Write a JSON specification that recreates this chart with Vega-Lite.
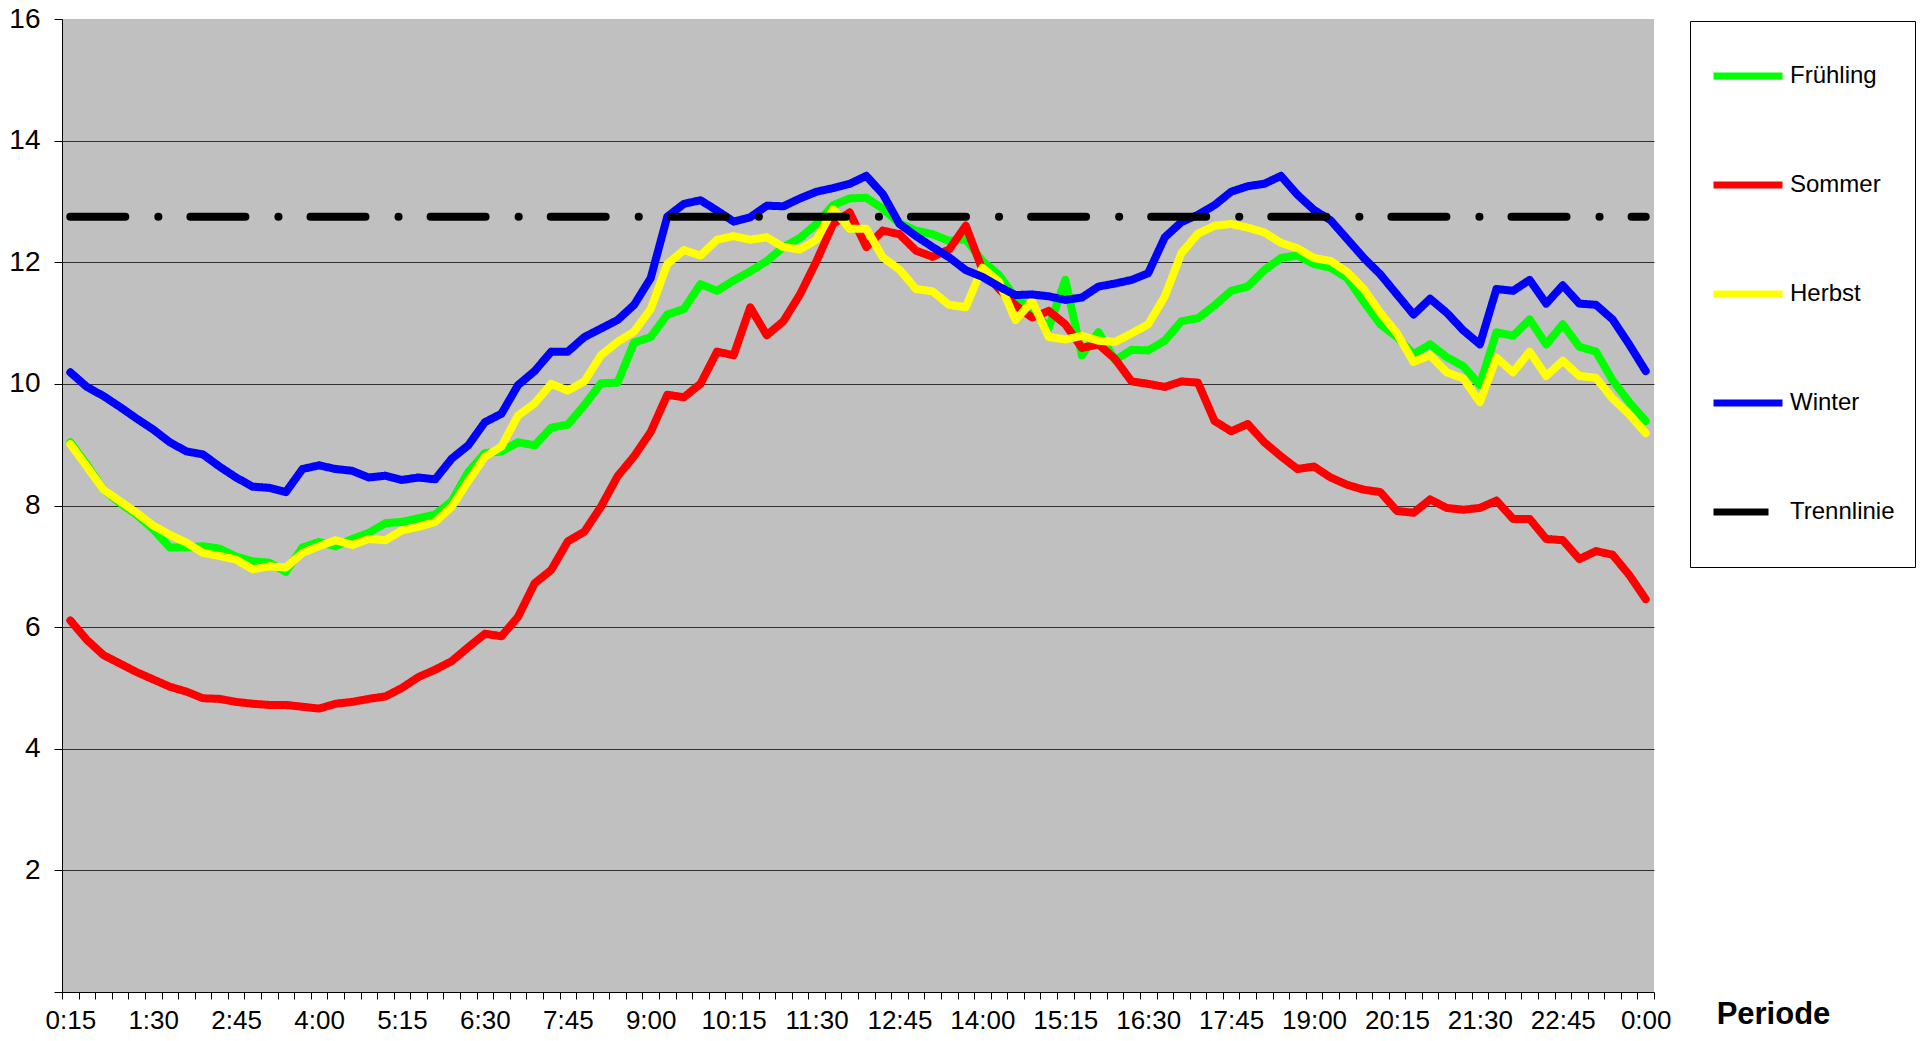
{
"$schema": "https://vega.github.io/schema/vega-lite/v6.json",
"width": 1592, "height": 973,
"autosize": "none",
"padding": {"left": 62, "top": 19, "right": 268, "bottom": 49},
"background": "white",
"config": {"view": {"fill": "#C0C0C0", "stroke": null}, "font": "Liberation Sans"},
"data": {"values": [
{"i":1,"s":"Frühling","v":9.04},{"i":2,"s":"Frühling","v":8.67},{"i":3,"s":"Frühling","v":8.26},{"i":4,"s":"Frühling","v":8.04},{"i":5,"s":"Frühling","v":7.85},{"i":6,"s":"Frühling","v":7.61},{"i":7,"s":"Frühling","v":7.31},{"i":8,"s":"Frühling","v":7.31},{"i":9,"s":"Frühling","v":7.33},{"i":10,"s":"Frühling","v":7.29},
{"i":11,"s":"Frühling","v":7.16},{"i":12,"s":"Frühling","v":7.08},{"i":13,"s":"Frühling","v":7.06},{"i":14,"s":"Frühling","v":6.91},{"i":15,"s":"Frühling","v":7.31},{"i":16,"s":"Frühling","v":7.40},{"i":17,"s":"Frühling","v":7.33},{"i":18,"s":"Frühling","v":7.45},{"i":19,"s":"Frühling","v":7.55},{"i":20,"s":"Frühling","v":7.71},
{"i":21,"s":"Frühling","v":7.73},{"i":22,"s":"Frühling","v":7.79},{"i":23,"s":"Frühling","v":7.85},{"i":24,"s":"Frühling","v":8.07},{"i":25,"s":"Frühling","v":8.55},{"i":26,"s":"Frühling","v":8.86},{"i":27,"s":"Frühling","v":8.89},{"i":28,"s":"Frühling","v":9.04},{"i":29,"s":"Frühling","v":8.99},{"i":30,"s":"Frühling","v":9.28},
{"i":31,"s":"Frühling","v":9.33},{"i":32,"s":"Frühling","v":9.65},{"i":33,"s":"Frühling","v":10.01},{"i":34,"s":"Frühling","v":10.02},{"i":35,"s":"Frühling","v":10.68},{"i":36,"s":"Frühling","v":10.77},{"i":37,"s":"Frühling","v":11.14},{"i":38,"s":"Frühling","v":11.23},{"i":39,"s":"Frühling","v":11.64},{"i":40,"s":"Frühling","v":11.53},
{"i":41,"s":"Frühling","v":11.70},{"i":42,"s":"Frühling","v":11.85},{"i":43,"s":"Frühling","v":12.02},{"i":44,"s":"Frühling","v":12.25},{"i":45,"s":"Frühling","v":12.40},{"i":46,"s":"Frühling","v":12.63},{"i":47,"s":"Frühling","v":12.94},{"i":48,"s":"Frühling","v":13.05},{"i":49,"s":"Frühling","v":13.06},{"i":50,"s":"Frühling","v":12.88},
{"i":51,"s":"Frühling","v":12.64},{"i":52,"s":"Frühling","v":12.52},{"i":53,"s":"Frühling","v":12.46},{"i":54,"s":"Frühling","v":12.35},{"i":55,"s":"Frühling","v":12.38},{"i":56,"s":"Frühling","v":12.02},{"i":57,"s":"Frühling","v":11.79},{"i":58,"s":"Frühling","v":11.41},{"i":59,"s":"Frühling","v":11.23},{"i":60,"s":"Frühling","v":10.92},
{"i":61,"s":"Frühling","v":11.71},{"i":62,"s":"Frühling","v":10.47},{"i":63,"s":"Frühling","v":10.85},{"i":64,"s":"Frühling","v":10.39},{"i":65,"s":"Frühling","v":10.56},{"i":66,"s":"Frühling","v":10.55},{"i":67,"s":"Frühling","v":10.71},{"i":68,"s":"Frühling","v":11.03},{"i":69,"s":"Frühling","v":11.08},{"i":70,"s":"Frühling","v":11.29},
{"i":71,"s":"Frühling","v":11.53},{"i":72,"s":"Frühling","v":11.60},{"i":73,"s":"Frühling","v":11.87},{"i":74,"s":"Frühling","v":12.07},{"i":75,"s":"Frühling","v":12.11},{"i":76,"s":"Frühling","v":11.97},{"i":77,"s":"Frühling","v":11.91},{"i":78,"s":"Frühling","v":11.74},{"i":79,"s":"Frühling","v":11.35},{"i":80,"s":"Frühling","v":10.98},
{"i":81,"s":"Frühling","v":10.77},{"i":82,"s":"Frühling","v":10.49},{"i":83,"s":"Frühling","v":10.65},{"i":84,"s":"Frühling","v":10.44},{"i":85,"s":"Frühling","v":10.29},{"i":86,"s":"Frühling","v":9.98},{"i":87,"s":"Frühling","v":10.85},{"i":88,"s":"Frühling","v":10.79},{"i":89,"s":"Frühling","v":11.06},{"i":90,"s":"Frühling","v":10.65},
{"i":91,"s":"Frühling","v":10.98},{"i":92,"s":"Frühling","v":10.61},{"i":93,"s":"Frühling","v":10.53},{"i":94,"s":"Frühling","v":10.06},{"i":95,"s":"Frühling","v":9.70},{"i":96,"s":"Frühling","v":9.39},
{"i":1,"s":"Sommer","v":6.11},{"i":2,"s":"Sommer","v":5.79},{"i":3,"s":"Sommer","v":5.54},{"i":4,"s":"Sommer","v":5.40},{"i":5,"s":"Sommer","v":5.26},{"i":6,"s":"Sommer","v":5.14},{"i":7,"s":"Sommer","v":5.02},{"i":8,"s":"Sommer","v":4.94},{"i":9,"s":"Sommer","v":4.83},{"i":10,"s":"Sommer","v":4.82},
{"i":11,"s":"Sommer","v":4.77},{"i":12,"s":"Sommer","v":4.74},{"i":13,"s":"Sommer","v":4.72},{"i":14,"s":"Sommer","v":4.72},{"i":15,"s":"Sommer","v":4.69},{"i":16,"s":"Sommer","v":4.66},{"i":17,"s":"Sommer","v":4.74},{"i":18,"s":"Sommer","v":4.77},{"i":19,"s":"Sommer","v":4.82},{"i":20,"s":"Sommer","v":4.86},
{"i":21,"s":"Sommer","v":5.00},{"i":22,"s":"Sommer","v":5.18},{"i":23,"s":"Sommer","v":5.30},{"i":24,"s":"Sommer","v":5.44},{"i":25,"s":"Sommer","v":5.67},{"i":26,"s":"Sommer","v":5.89},{"i":27,"s":"Sommer","v":5.85},{"i":28,"s":"Sommer","v":6.17},{"i":29,"s":"Sommer","v":6.72},{"i":30,"s":"Sommer","v":6.94},
{"i":31,"s":"Sommer","v":7.41},{"i":32,"s":"Sommer","v":7.57},{"i":33,"s":"Sommer","v":7.98},{"i":34,"s":"Sommer","v":8.48},{"i":35,"s":"Sommer","v":8.81},{"i":36,"s":"Sommer","v":9.21},{"i":37,"s":"Sommer","v":9.82},{"i":38,"s":"Sommer","v":9.78},{"i":39,"s":"Sommer","v":10.00},{"i":40,"s":"Sommer","v":10.53},
{"i":41,"s":"Sommer","v":10.47},{"i":42,"s":"Sommer","v":11.26},{"i":43,"s":"Sommer","v":10.80},{"i":44,"s":"Sommer","v":11.03},{"i":45,"s":"Sommer","v":11.47},{"i":46,"s":"Sommer","v":12.02},{"i":47,"s":"Sommer","v":12.63},{"i":48,"s":"Sommer","v":12.82},{"i":49,"s":"Sommer","v":12.25},{"i":50,"s":"Sommer","v":12.52},
{"i":51,"s":"Sommer","v":12.46},{"i":52,"s":"Sommer","v":12.19},{"i":53,"s":"Sommer","v":12.09},{"i":54,"s":"Sommer","v":12.21},{"i":55,"s":"Sommer","v":12.60},{"i":56,"s":"Sommer","v":11.88},{"i":57,"s":"Sommer","v":11.56},{"i":58,"s":"Sommer","v":11.29},{"i":59,"s":"Sommer","v":11.09},{"i":60,"s":"Sommer","v":11.20},
{"i":61,"s":"Sommer","v":10.98},{"i":62,"s":"Sommer","v":10.59},{"i":63,"s":"Sommer","v":10.65},{"i":64,"s":"Sommer","v":10.41},{"i":65,"s":"Sommer","v":10.04},{"i":66,"s":"Sommer","v":10.00},{"i":67,"s":"Sommer","v":9.95},{"i":68,"s":"Sommer","v":10.04},{"i":69,"s":"Sommer","v":10.02},{"i":70,"s":"Sommer","v":9.39},
{"i":71,"s":"Sommer","v":9.22},{"i":72,"s":"Sommer","v":9.34},{"i":73,"s":"Sommer","v":9.04},{"i":74,"s":"Sommer","v":8.81},{"i":75,"s":"Sommer","v":8.60},{"i":76,"s":"Sommer","v":8.64},{"i":77,"s":"Sommer","v":8.46},{"i":78,"s":"Sommer","v":8.34},{"i":79,"s":"Sommer","v":8.26},{"i":80,"s":"Sommer","v":8.22},
{"i":81,"s":"Sommer","v":7.91},{"i":82,"s":"Sommer","v":7.88},{"i":83,"s":"Sommer","v":8.10},{"i":84,"s":"Sommer","v":7.96},{"i":85,"s":"Sommer","v":7.93},{"i":86,"s":"Sommer","v":7.96},{"i":87,"s":"Sommer","v":8.08},{"i":88,"s":"Sommer","v":7.78},{"i":89,"s":"Sommer","v":7.78},{"i":90,"s":"Sommer","v":7.45},
{"i":91,"s":"Sommer","v":7.43},{"i":92,"s":"Sommer","v":7.12},{"i":93,"s":"Sommer","v":7.25},{"i":94,"s":"Sommer","v":7.19},{"i":95,"s":"Sommer","v":6.86},{"i":96,"s":"Sommer","v":6.46},
{"i":1,"s":"Herbst","v":9.01},{"i":2,"s":"Herbst","v":8.64},{"i":3,"s":"Herbst","v":8.26},{"i":4,"s":"Herbst","v":8.07},{"i":5,"s":"Herbst","v":7.88},{"i":6,"s":"Herbst","v":7.67},{"i":7,"s":"Herbst","v":7.52},{"i":8,"s":"Herbst","v":7.39},{"i":9,"s":"Herbst","v":7.22},{"i":10,"s":"Herbst","v":7.17},
{"i":11,"s":"Herbst","v":7.11},{"i":12,"s":"Herbst","v":6.95},{"i":13,"s":"Herbst","v":7.00},{"i":14,"s":"Herbst","v":6.98},{"i":15,"s":"Herbst","v":7.22},{"i":16,"s":"Herbst","v":7.33},{"i":17,"s":"Herbst","v":7.43},{"i":18,"s":"Herbst","v":7.35},{"i":19,"s":"Herbst","v":7.45},{"i":20,"s":"Herbst","v":7.43},
{"i":21,"s":"Herbst","v":7.59},{"i":22,"s":"Herbst","v":7.65},{"i":23,"s":"Herbst","v":7.73},{"i":24,"s":"Herbst","v":7.98},{"i":25,"s":"Herbst","v":8.40},{"i":26,"s":"Herbst","v":8.80},{"i":27,"s":"Herbst","v":8.97},{"i":28,"s":"Herbst","v":9.48},{"i":29,"s":"Herbst","v":9.68},{"i":30,"s":"Herbst","v":10.00},
{"i":31,"s":"Herbst","v":9.89},{"i":32,"s":"Herbst","v":10.04},{"i":33,"s":"Herbst","v":10.47},{"i":34,"s":"Herbst","v":10.69},{"i":35,"s":"Herbst","v":10.86},{"i":36,"s":"Herbst","v":11.23},{"i":37,"s":"Herbst","v":11.97},{"i":38,"s":"Herbst","v":12.20},{"i":39,"s":"Herbst","v":12.11},{"i":40,"s":"Herbst","v":12.37},
{"i":41,"s":"Herbst","v":12.43},{"i":42,"s":"Herbst","v":12.37},{"i":43,"s":"Herbst","v":12.41},{"i":44,"s":"Herbst","v":12.25},{"i":45,"s":"Herbst","v":12.21},{"i":46,"s":"Herbst","v":12.37},{"i":47,"s":"Herbst","v":12.87},{"i":48,"s":"Herbst","v":12.55},{"i":49,"s":"Herbst","v":12.55},{"i":50,"s":"Herbst","v":12.08},
{"i":51,"s":"Herbst","v":11.88},{"i":52,"s":"Herbst","v":11.56},{"i":53,"s":"Herbst","v":11.52},{"i":54,"s":"Herbst","v":11.30},{"i":55,"s":"Herbst","v":11.26},{"i":56,"s":"Herbst","v":11.91},{"i":57,"s":"Herbst","v":11.68},{"i":58,"s":"Herbst","v":11.05},{"i":59,"s":"Herbst","v":11.36},{"i":60,"s":"Herbst","v":10.77},
{"i":61,"s":"Herbst","v":10.73},{"i":62,"s":"Herbst","v":10.79},{"i":63,"s":"Herbst","v":10.71},{"i":64,"s":"Herbst","v":10.69},{"i":65,"s":"Herbst","v":10.83},{"i":66,"s":"Herbst","v":10.98},{"i":67,"s":"Herbst","v":11.44},{"i":68,"s":"Herbst","v":12.15},{"i":69,"s":"Herbst","v":12.47},{"i":70,"s":"Herbst","v":12.60},
{"i":71,"s":"Herbst","v":12.63},{"i":72,"s":"Herbst","v":12.57},{"i":73,"s":"Herbst","v":12.49},{"i":74,"s":"Herbst","v":12.32},{"i":75,"s":"Herbst","v":12.23},{"i":76,"s":"Herbst","v":12.07},{"i":77,"s":"Herbst","v":12.02},{"i":78,"s":"Herbst","v":11.84},{"i":79,"s":"Herbst","v":11.56},{"i":80,"s":"Herbst","v":11.17},
{"i":81,"s":"Herbst","v":10.83},{"i":82,"s":"Herbst","v":10.36},{"i":83,"s":"Herbst","v":10.47},{"i":84,"s":"Herbst","v":10.19},{"i":85,"s":"Herbst","v":10.09},{"i":86,"s":"Herbst","v":9.70},{"i":87,"s":"Herbst","v":10.43},{"i":88,"s":"Herbst","v":10.19},{"i":89,"s":"Herbst","v":10.53},{"i":90,"s":"Herbst","v":10.13},
{"i":91,"s":"Herbst","v":10.38},{"i":92,"s":"Herbst","v":10.13},{"i":93,"s":"Herbst","v":10.10},{"i":94,"s":"Herbst","v":9.76},{"i":95,"s":"Herbst","v":9.50},{"i":96,"s":"Herbst","v":9.19},
{"i":1,"s":"Winter","v":10.19},{"i":2,"s":"Winter","v":9.95},{"i":3,"s":"Winter","v":9.80},{"i":4,"s":"Winter","v":9.62},{"i":5,"s":"Winter","v":9.43},{"i":6,"s":"Winter","v":9.25},{"i":7,"s":"Winter","v":9.04},{"i":8,"s":"Winter","v":8.89},{"i":9,"s":"Winter","v":8.84},{"i":10,"s":"Winter","v":8.64},
{"i":11,"s":"Winter","v":8.46},{"i":12,"s":"Winter","v":8.31},{"i":13,"s":"Winter","v":8.29},{"i":14,"s":"Winter","v":8.22},{"i":15,"s":"Winter","v":8.60},{"i":16,"s":"Winter","v":8.66},{"i":17,"s":"Winter","v":8.60},{"i":18,"s":"Winter","v":8.57},{"i":19,"s":"Winter","v":8.46},{"i":20,"s":"Winter","v":8.49},
{"i":21,"s":"Winter","v":8.42},{"i":22,"s":"Winter","v":8.46},{"i":23,"s":"Winter","v":8.43},{"i":24,"s":"Winter","v":8.77},{"i":25,"s":"Winter","v":8.99},{"i":26,"s":"Winter","v":9.37},{"i":27,"s":"Winter","v":9.51},{"i":28,"s":"Winter","v":9.98},{"i":29,"s":"Winter","v":10.21},{"i":30,"s":"Winter","v":10.53},
{"i":31,"s":"Winter","v":10.53},{"i":32,"s":"Winter","v":10.77},{"i":33,"s":"Winter","v":10.91},{"i":34,"s":"Winter","v":11.05},{"i":35,"s":"Winter","v":11.30},{"i":36,"s":"Winter","v":11.74},{"i":37,"s":"Winter","v":12.75},{"i":38,"s":"Winter","v":12.96},{"i":39,"s":"Winter","v":13.02},{"i":40,"s":"Winter","v":12.85},
{"i":41,"s":"Winter","v":12.67},{"i":42,"s":"Winter","v":12.74},{"i":43,"s":"Winter","v":12.93},{"i":44,"s":"Winter","v":12.92},{"i":45,"s":"Winter","v":13.05},{"i":46,"s":"Winter","v":13.16},{"i":47,"s":"Winter","v":13.22},{"i":48,"s":"Winter","v":13.29},{"i":49,"s":"Winter","v":13.42},{"i":50,"s":"Winter","v":13.12},
{"i":51,"s":"Winter","v":12.63},{"i":52,"s":"Winter","v":12.43},{"i":53,"s":"Winter","v":12.25},{"i":54,"s":"Winter","v":12.08},{"i":55,"s":"Winter","v":11.87},{"i":56,"s":"Winter","v":11.76},{"i":57,"s":"Winter","v":11.60},{"i":58,"s":"Winter","v":11.46},{"i":59,"s":"Winter","v":11.47},{"i":60,"s":"Winter","v":11.44},
{"i":61,"s":"Winter","v":11.38},{"i":62,"s":"Winter","v":11.42},{"i":63,"s":"Winter","v":11.60},{"i":64,"s":"Winter","v":11.65},{"i":65,"s":"Winter","v":11.71},{"i":66,"s":"Winter","v":11.82},{"i":67,"s":"Winter","v":12.41},{"i":68,"s":"Winter","v":12.66},{"i":69,"s":"Winter","v":12.78},{"i":70,"s":"Winter","v":12.94},
{"i":71,"s":"Winter","v":13.16},{"i":72,"s":"Winter","v":13.25},{"i":73,"s":"Winter","v":13.29},{"i":74,"s":"Winter","v":13.42},{"i":75,"s":"Winter","v":13.11},{"i":76,"s":"Winter","v":12.86},{"i":77,"s":"Winter","v":12.69},{"i":78,"s":"Winter","v":12.38},{"i":79,"s":"Winter","v":12.07},{"i":80,"s":"Winter","v":11.80},
{"i":81,"s":"Winter","v":11.47},{"i":82,"s":"Winter","v":11.14},{"i":83,"s":"Winter","v":11.40},{"i":84,"s":"Winter","v":11.17},{"i":85,"s":"Winter","v":10.88},{"i":86,"s":"Winter","v":10.65},{"i":87,"s":"Winter","v":11.56},{"i":88,"s":"Winter","v":11.53},{"i":89,"s":"Winter","v":11.71},{"i":90,"s":"Winter","v":11.32},
{"i":91,"s":"Winter","v":11.62},{"i":92,"s":"Winter","v":11.32},{"i":93,"s":"Winter","v":11.30},{"i":94,"s":"Winter","v":11.06},{"i":95,"s":"Winter","v":10.65},{"i":96,"s":"Winter","v":10.21},
{"i":1,"s":"Trennlinie","v":12.75},{"i":2,"s":"Trennlinie","v":12.75},{"i":3,"s":"Trennlinie","v":12.75},{"i":4,"s":"Trennlinie","v":12.75},{"i":5,"s":"Trennlinie","v":12.75},{"i":6,"s":"Trennlinie","v":12.75},{"i":7,"s":"Trennlinie","v":12.75},{"i":8,"s":"Trennlinie","v":12.75},{"i":9,"s":"Trennlinie","v":12.75},{"i":10,"s":"Trennlinie","v":12.75},
{"i":11,"s":"Trennlinie","v":12.75},{"i":12,"s":"Trennlinie","v":12.75},{"i":13,"s":"Trennlinie","v":12.75},{"i":14,"s":"Trennlinie","v":12.75},{"i":15,"s":"Trennlinie","v":12.75},{"i":16,"s":"Trennlinie","v":12.75},{"i":17,"s":"Trennlinie","v":12.75},{"i":18,"s":"Trennlinie","v":12.75},{"i":19,"s":"Trennlinie","v":12.75},{"i":20,"s":"Trennlinie","v":12.75},
{"i":21,"s":"Trennlinie","v":12.75},{"i":22,"s":"Trennlinie","v":12.75},{"i":23,"s":"Trennlinie","v":12.75},{"i":24,"s":"Trennlinie","v":12.75},{"i":25,"s":"Trennlinie","v":12.75},{"i":26,"s":"Trennlinie","v":12.75},{"i":27,"s":"Trennlinie","v":12.75},{"i":28,"s":"Trennlinie","v":12.75},{"i":29,"s":"Trennlinie","v":12.75},{"i":30,"s":"Trennlinie","v":12.75},
{"i":31,"s":"Trennlinie","v":12.75},{"i":32,"s":"Trennlinie","v":12.75},{"i":33,"s":"Trennlinie","v":12.75},{"i":34,"s":"Trennlinie","v":12.75},{"i":35,"s":"Trennlinie","v":12.75},{"i":36,"s":"Trennlinie","v":12.75},{"i":37,"s":"Trennlinie","v":12.75},{"i":38,"s":"Trennlinie","v":12.75},{"i":39,"s":"Trennlinie","v":12.75},{"i":40,"s":"Trennlinie","v":12.75},
{"i":41,"s":"Trennlinie","v":12.75},{"i":42,"s":"Trennlinie","v":12.75},{"i":43,"s":"Trennlinie","v":12.75},{"i":44,"s":"Trennlinie","v":12.75},{"i":45,"s":"Trennlinie","v":12.75},{"i":46,"s":"Trennlinie","v":12.75},{"i":47,"s":"Trennlinie","v":12.75},{"i":48,"s":"Trennlinie","v":12.75},{"i":49,"s":"Trennlinie","v":12.75},{"i":50,"s":"Trennlinie","v":12.75},
{"i":51,"s":"Trennlinie","v":12.75},{"i":52,"s":"Trennlinie","v":12.75},{"i":53,"s":"Trennlinie","v":12.75},{"i":54,"s":"Trennlinie","v":12.75},{"i":55,"s":"Trennlinie","v":12.75},{"i":56,"s":"Trennlinie","v":12.75},{"i":57,"s":"Trennlinie","v":12.75},{"i":58,"s":"Trennlinie","v":12.75},{"i":59,"s":"Trennlinie","v":12.75},{"i":60,"s":"Trennlinie","v":12.75},
{"i":61,"s":"Trennlinie","v":12.75},{"i":62,"s":"Trennlinie","v":12.75},{"i":63,"s":"Trennlinie","v":12.75},{"i":64,"s":"Trennlinie","v":12.75},{"i":65,"s":"Trennlinie","v":12.75},{"i":66,"s":"Trennlinie","v":12.75},{"i":67,"s":"Trennlinie","v":12.75},{"i":68,"s":"Trennlinie","v":12.75},{"i":69,"s":"Trennlinie","v":12.75},{"i":70,"s":"Trennlinie","v":12.75},
{"i":71,"s":"Trennlinie","v":12.75},{"i":72,"s":"Trennlinie","v":12.75},{"i":73,"s":"Trennlinie","v":12.75},{"i":74,"s":"Trennlinie","v":12.75},{"i":75,"s":"Trennlinie","v":12.75},{"i":76,"s":"Trennlinie","v":12.75},{"i":77,"s":"Trennlinie","v":12.75},{"i":78,"s":"Trennlinie","v":12.75},{"i":79,"s":"Trennlinie","v":12.75},{"i":80,"s":"Trennlinie","v":12.75},
{"i":81,"s":"Trennlinie","v":12.75},{"i":82,"s":"Trennlinie","v":12.75},{"i":83,"s":"Trennlinie","v":12.75},{"i":84,"s":"Trennlinie","v":12.75},{"i":85,"s":"Trennlinie","v":12.75},{"i":86,"s":"Trennlinie","v":12.75},{"i":87,"s":"Trennlinie","v":12.75},{"i":88,"s":"Trennlinie","v":12.75},{"i":89,"s":"Trennlinie","v":12.75},{"i":90,"s":"Trennlinie","v":12.75},
{"i":91,"s":"Trennlinie","v":12.75},{"i":92,"s":"Trennlinie","v":12.75},{"i":93,"s":"Trennlinie","v":12.75},{"i":94,"s":"Trennlinie","v":12.75},{"i":95,"s":"Trennlinie","v":12.75},{"i":96,"s":"Trennlinie","v":12.75}
]},
"mark": {"type": "line", "strokeWidth": 8, "strokeCap": "round", "strokeJoin": "round"},
"encoding": {
  "x": {"field": "i", "type": "quantitative",
    "scale": {"domain": [0.5, 96.5], "nice": false, "zero": false},
    "axis": {
      "values": [0.5,1.5,2.5,3.5,4.5,5.5,6.5,7.5,8.5,9.5,10.5,11.5,12.5,13.5,14.5,15.5,16.5,17.5,18.5,19.5,20.5,21.5,22.5,23.5,24.5,25.5,26.5,27.5,28.5,29.5,30.5,31.5,32.5,33.5,34.5,35.5,36.5,37.5,38.5,39.5,40.5,41.5,42.5,43.5,44.5,45.5,46.5,47.5,48.5,49.5,50.5,51.5,52.5,53.5,54.5,55.5,56.5,57.5,58.5,59.5,60.5,61.5,62.5,63.5,64.5,65.5,66.5,67.5,68.5,69.5,70.5,71.5,72.5,73.5,74.5,75.5,76.5,77.5,78.5,79.5,80.5,81.5,82.5,83.5,84.5,85.5,86.5,87.5,88.5,89.5,90.5,91.5,92.5,93.5,94.5,95.5,96.5],
      "labelExpr": "(datum.value - 0.5) % 5 == 0 && datum.value < 96 ? (floor((datum.value + 0.5) * 15 / 60) % 24) + ':' + ((((datum.value + 0.5) * 15) % 60) < 10 ? '0' : '') + (((datum.value + 0.5) * 15) % 60) : ''",
      "labelOffset": 8.29,
      "labelOverlap": false, "labelBound": false, "labelFlush": false,
      "labelFontSize": 26, "labelColor": "black", "labelPadding": 8,
      "grid": false, "tickSize": 7, "tickColor": "black", "domainColor": "black", "tickWidth": 1, "domainWidth": 1,
      "title": "Periode", "titleFontSize": 31, "titleFontWeight": "bold", "titleColor": "black",
      "titleX": 1711, "titleY": 22, "titleBaseline": "middle", "titleAlign": "center", "titleAnchor": null
    }},
  "y": {"field": "v", "type": "quantitative",
    "scale": {"domain": [0, 16], "nice": false, "zero": true},
    "axis": {
      "values": [0,2,4,6,8,10,12,14,16],
      "labelExpr": "datum.value == 0 ? '' : datum.label",
      "labelFontSize": 28, "labelColor": "black", "labelPadding": 14,
      "tickSize": 8, "tickColor": "black", "domainColor": "black",
      "grid": true, "gridColor": "#303030", "gridWidth": 1,
      "gridOpacity": {"condition": {"test": "datum.value == 16 || datum.value == 0", "value": 0}, "value": 1},
      "title": null
    }},
  "color": {"field": "s", "type": "nominal",
    "scale": {"domain": ["Frühling","Sommer","Herbst","Winter","Trennlinie"], "range": ["#00FF00","#FF0000","#FFFF00","#0000FF","#000000"]},
    "legend": {"orient": "none", "legendX": 1628, "legendY": 2, "title": null, "symbolType": "stroke", "symbolSize": 4761, "symbolStrokeWidth": 7, "labelFontSize": 24, "labelFont": "Liberation Sans", "labelColor": "black", "rowPadding": 39, "clipHeight": 70, "padding": 20, "symbolOffset": 0, "labelOffset": 4, "fillColor": "white", "strokeColor": "black", "direction": "vertical"}},
  "strokeDash": {"field": "s", "type": "nominal",
    "scale": {"domain": ["Frühling","Sommer","Herbst","Winter","Trennlinie"], "range": [[1,0],[1,0],[1,0],[1,0],[55,33,0.1,32]]},
    "legend": {"orient": "none", "legendX": 1628, "legendY": 2, "title": null, "symbolType": "stroke", "symbolSize": 4761, "symbolStrokeWidth": 7, "labelFontSize": 24, "labelFont": "Liberation Sans", "labelColor": "black", "rowPadding": 39, "clipHeight": 70, "padding": 20, "symbolOffset": 0, "labelOffset": 4, "fillColor": "white", "strokeColor": "black", "direction": "vertical"}}
}
}
